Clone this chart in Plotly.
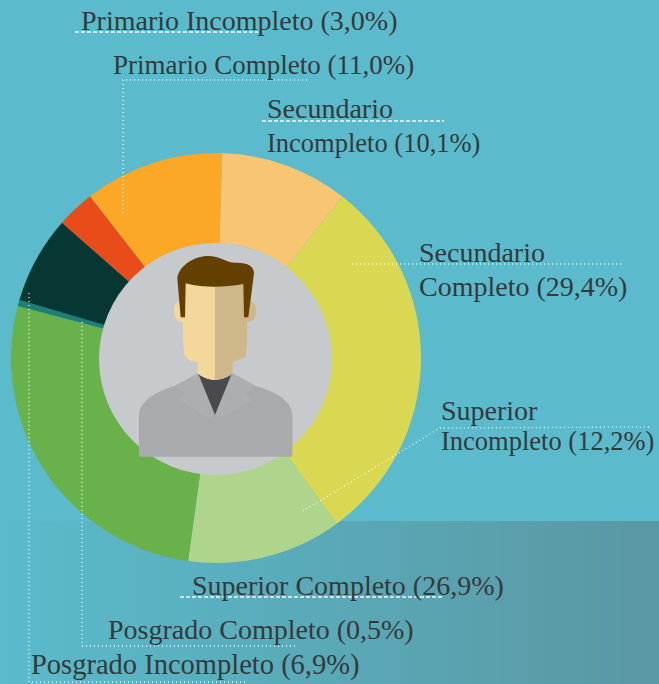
import re
import plotly.graph_objects as go

W, H = 659, 684

categories = ["Secundario Incompleto", "Secundario Completo", "Superior Incompleto",
              "Superior Completo", "Posgrado Completo", "Posgrado Incompleto",
              "Primario Incompleto", "Primario Completo"]
values = [10.1, 29.4, 12.2, 26.9, 0.5, 6.9, 3.0, 11.0]
colors = ["#F8C572", "#DAD853", "#AED58B", "#69B14A", "#1E7F74", "#063732", "#E74C19", "#FBA826"]

BG = "#5BBBCC"
TXT = "#34393B"
FONT = "Liberation Serif"
FS = 28


def px(x):
    return x / W


def py(y):
    return 1 - y / H


def fmt(name):
    v = values[categories.index(name)]
    return f"({v:.1f}%)".replace(".", ",")


shapes = []

# background gradient band
N = 66
for i in range(N):
    t = i / (N - 1)
    r = int(0x5B + (0x5A - 0x5B) * t)
    g = int(0xBB + (0x98 - 0xBB) * t)
    b = int(0xCC + (0xA3 - 0xCC) * t)
    shapes.append(dict(type="rect", xref="paper", yref="paper", layer="below",
                       x0=px(W * i / N), x1=px(W * (i + 1) / N) + 0.001, y0=py(684), y1=py(521),
                       fillcolor=f"rgb({r},{g},{b})", line_width=0))


def leader(pts, dash="1px,3px", width=1.3):
    d = "M" + " L".join(f"{px(x):.5f},{py(y):.5f}" for x, y in pts)
    shapes.append(dict(type="path", xref="paper", yref="paper", path=d, layer="above",
                       line=dict(color="rgba(255,255,255,0.9)", width=width, dash=dash)))


leader([(75, 32), (258, 32)], "4px,2px", 1.5)
leader([(123, 213), (123, 80), (307, 80)])
leader([(262, 121), (444, 121)], "4px,2px", 1.5)
leader([(352, 264), (623, 264)])
leader([(303, 511), (440, 428), (650, 427)])
leader([(180, 597), (442, 597)], "4px,2px", 1.5)
leader([(82, 322), (82, 646), (298, 646)])
leader([(29, 293), (29, 682), (245, 682)])

# centre disc
shapes.append(dict(type="circle", xref="paper", yref="paper", layer="above",
                   x0=px(99), x1=px(332), y0=py(243), y1=py(475),
                   fillcolor="#C6CACD", line_width=0))


def icon(path, fill=None, line=None):
    """Path given in reference-crop units (3x, origin at 120,240)."""
    def conv(m):
        x, y = float(m.group(1)), float(m.group(2))
        return f"{px(120 + x / 3):.5f},{py(240 + y / 3):.5f}"
    d = re.sub(r"(-?\d+\.?\d*),(-?\d+\.?\d*)", conv, path)
    s = dict(type="path", xref="paper", yref="paper", path=d, layer="above", line_width=0)
    if fill:
        s["fillcolor"] = fill
    if line:
        s["line"] = line
    shapes.append(s)


icon("M57,650 L57,520 C65,475 120,452 165,437 L235,400 L285,525 L338,400 L405,437 "
     "C470,455 510,480 517,520 L517,650 Z", "#A9AAAC")
icon("M165,437 L235,400 L285,525 L265,533 L176,480 L192,458 Z", "#ADAEB0")
icon("M405,437 L338,400 L285,525 L305,533 L396,480 L378,458 Z", "#ADAEB0")
icon("M165,437 L192,458 L176,480 L265,533", None,
     dict(color="#C6C7C9", width=1, dash="2px,1px"))
icon("M405,437 L378,458 L396,480 L305,533", None,
     dict(color="#C6C7C9", width=1, dash="2px,1px"))
icon("M235,402 C250,413 270,420 285,420 C300,420 320,413 335,402 L285,525 Z", "#4A4A4C")
icon("M180,185 C165,185 160,200 163,222 C165,240 178,248 192,246 L192,190 Z", "#F4D79B")
icon("M390,185 C405,185 410,200 407,222 C405,240 392,248 378,246 L378,190 Z", "#CEB88A")
icon("M197,128 L285,140 L285,420 C265,420 243,410 233,400 L233,366 L207,362 L192,342 "
     "L189,300 L189,230 Z", "#F4D79B")
icon("M285,140 L370,130 L382,230 L381,320 L376,352 L338,366 L338,400 C328,410 305,420 285,420 Z",
     "#CEB88A")
icon("M172,115 C175,80 220,48 265,48 C300,48 320,70 350,68 C385,68 402,80 402,100 "
     "L385,232 L372,232 L370,132 C340,138 310,140 285,140 C255,140 225,138 197,130 "
     "L195,232 L182,232 Z", "#633F00")

annotations = []


def label(x, y, text, size=FS):
    annotations.append(dict(xref="paper", yref="paper", x=px(x - 2), y=py(y), text=text,
                            xanchor="left", yanchor="middle", showarrow=False,
                            font=dict(family=FONT, size=size, color=TXT)))


label(81, 21, "Primario Incompleto " + fmt("Primario Incompleto"))
label(113, 65, "Primario Completo " + fmt("Primario Completo"), 27)
label(267, 109, "Secundario")
label(267, 143, "Incompleto " + fmt("Secundario Incompleto"), 26.5)
label(419, 252, "Secundario")
label(419, 287, "Completo " + fmt("Secundario Completo"))
label(441, 410, "Superior")
label(441, 441, "Incompleto " + fmt("Superior Incompleto"), 26.5)
label(192, 585, "Superior Completo " + fmt("Superior Completo"))
label(108, 629, "Posgrado Completo " + fmt("Posgrado Completo"))
label(31, 665, "Posgrado Incompleto " + fmt("Posgrado Incompleto"), 28.5)

cx, cy, R = 216, 358, 205
fig = go.Figure(go.Pie(
    labels=categories, values=values, sort=False, direction="clockwise",
    rotation=1.7, hole=0.56, textinfo="none", hoverinfo="label+percent",
    marker=dict(colors=colors, line=dict(width=0)),
    domain=dict(x=[px(cx - R), px(cx + R)], y=[py(cy + R), py(cy - R)]),
    showlegend=False,
))
fig.update_layout(width=W, height=H, margin=dict(l=0, r=0, t=0, b=0), autosize=False,
                  paper_bgcolor=BG, plot_bgcolor=BG, shapes=shapes, annotations=annotations,
                  showlegend=False)
fig.write_html("out.html", config=dict(displayModeBar=False),
               post_script="document.body.style.margin='0';document.body.style.background='#5BBBCC';document.documentElement.style.overflow='hidden';")
